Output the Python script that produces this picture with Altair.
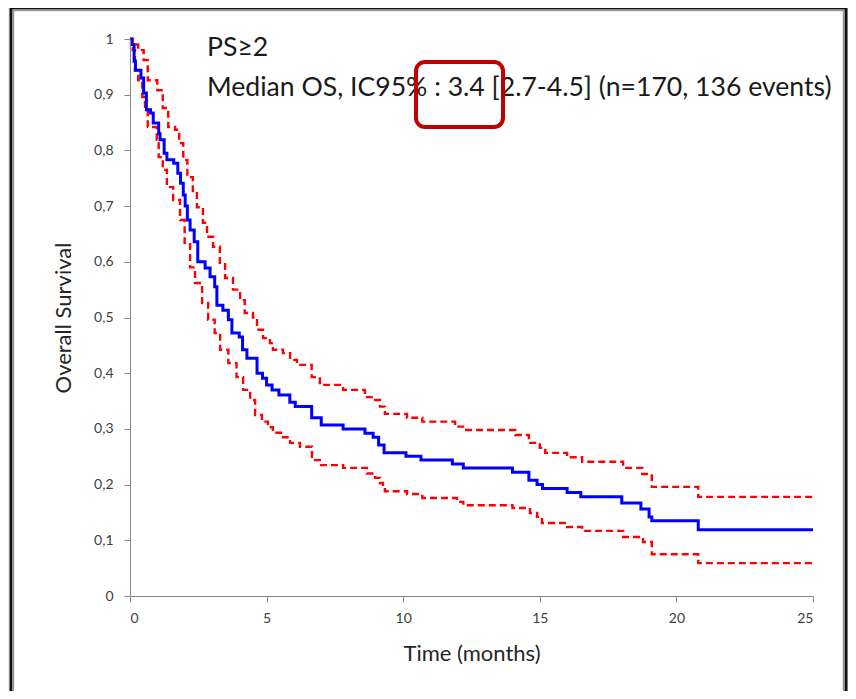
import altair as alt
import pandas as pd

# Kaplan-Meier estimate (step change points: time in months, survival)
km_t = [0, 0.05, 0.15, 0.2, 0.4, 0.5, 0.6, 0.75, 0.85, 1.05, 1.1, 1.25, 1.35, 1.6, 1.75, 1.85,
        1.95, 2.02, 2.1, 2.2, 2.35, 2.48, 2.75, 2.93, 3.1, 3.18, 3.4, 3.6, 3.73, 4.0, 4.12, 4.28,
        4.65, 4.85, 5.0, 5.2, 5.45, 5.85, 6.05, 6.65, 7.0, 7.8, 8.6, 8.9, 9.1, 9.3, 10.1, 10.65,
        11.8, 12.2, 14.0, 14.6, 14.9, 15.1, 16.0, 16.5, 18.0, 18.7, 19.0, 19.1, 20.8, 25.0]
km_s = [1.0, 0.99, 0.96, 0.944, 0.93, 0.903, 0.873, 0.867, 0.849, 0.83, 0.819, 0.795, 0.783,
        0.777, 0.759, 0.741, 0.72, 0.70, 0.675, 0.657, 0.636, 0.60, 0.589, 0.573, 0.555, 0.522,
        0.513, 0.496, 0.472, 0.465, 0.442, 0.427, 0.40, 0.391, 0.379, 0.37, 0.361, 0.348, 0.34,
        0.32, 0.307, 0.30, 0.292, 0.285, 0.271, 0.257, 0.251, 0.244, 0.237, 0.23, 0.222, 0.208,
        0.2, 0.193, 0.186, 0.178, 0.167, 0.156, 0.142, 0.135, 0.119, 0.119]

# Upper 95% confidence bound
up_t = [0, 0.1, 0.3, 0.5, 0.65, 1.0, 1.2, 1.4, 1.65, 1.8, 1.95, 2.1, 2.3, 2.45, 2.67, 2.82,
        3.04, 3.29, 3.48, 3.77, 4.03, 4.2, 4.5, 4.65, 4.87, 5.12, 5.23, 5.6, 5.86, 6.11, 6.65,
        6.95, 7.8, 8.6, 8.9, 9.15, 9.33, 10.14, 10.7, 11.9, 12.26, 14.1, 14.6, 15.0, 15.2, 16.0,
        16.55, 18.05, 18.75, 19.1, 20.8, 25.0]
up_s = [1.0, 0.99, 0.98, 0.962, 0.926, 0.908, 0.876, 0.842, 0.837, 0.813, 0.783, 0.752, 0.723,
        0.698, 0.67, 0.645, 0.627, 0.598, 0.571, 0.55, 0.531, 0.508, 0.5, 0.478, 0.463, 0.454,
        0.442, 0.436, 0.424, 0.415, 0.393, 0.379, 0.37, 0.357, 0.352, 0.34, 0.327, 0.32, 0.313,
        0.304, 0.298, 0.289, 0.275, 0.266, 0.257, 0.249, 0.241, 0.23, 0.219, 0.196, 0.178, 0.178]

# Lower 95% confidence bound
lo_t = [0, 0.1, 0.18, 0.3, 0.45, 0.55, 0.65, 0.98, 1.05, 1.2, 1.35, 1.58, 1.83, 2.0, 2.2, 2.38,
        2.64, 2.86, 3.1, 3.3, 3.6, 3.9, 4.14, 4.4, 4.58, 4.83, 5.05, 5.23, 5.6, 5.86, 6.22, 6.66,
        6.95, 7.8, 8.67, 8.97, 9.15, 9.26, 9.33, 10.14, 10.7, 11.97, 12.2, 14.0, 14.64, 14.9,
        15.08, 16.0, 16.55, 18.05, 18.78, 19.1, 20.8, 25.0]
lo_s = [1.0, 0.98, 0.944, 0.926, 0.896, 0.873, 0.842, 0.819, 0.788, 0.765, 0.734, 0.711, 0.675,
        0.634, 0.59, 0.562, 0.526, 0.496, 0.472, 0.442, 0.418, 0.393, 0.37, 0.352, 0.325, 0.313,
        0.303, 0.293, 0.285, 0.275, 0.268, 0.244, 0.235, 0.23, 0.22, 0.212, 0.203, 0.194, 0.188,
        0.183, 0.176, 0.169, 0.163, 0.158, 0.149, 0.142, 0.131, 0.124, 0.117, 0.106, 0.097,
        0.075, 0.059, 0.059]

x_ticks = [0, 5, 10, 15, 20, 25]
y_ticks = [0, 0.1, 0.2, 0.3, 0.4, 0.5, 0.6, 0.7, 0.8, 0.9, 1.0]
title_line1 = "PS≥2"
title_line2 = "Median OS, IC95% : 3.4 [2.7-4.5] (n=170, 136 events)"

km = pd.DataFrame({"t": km_t, "s": km_s})
ci = pd.concat([
    pd.DataFrame({"t": up_t, "s": up_s, "bound": "upper"}),
    pd.DataFrame({"t": lo_t, "s": lo_s, "bound": "lower"}),
])

FONT = "Lato"
AXIS_GRAY = "#868686"

x_enc = alt.X("t:Q", scale=alt.Scale(domain=[0, 25], nice=False),
              axis=alt.Axis(values=x_ticks, title="Time (months)", grid=False, zindex=2,
                            domainColor=AXIS_GRAY, tickColor=AXIS_GRAY, tickSize=6,
                            labelFont=FONT, labelFontSize=14, labelColor="#404040", labelPadding=9,
                            titleFont=FONT, titleFontSize=22, titleFontWeight="normal",
                            titleColor="#262626", titlePadding=18))
y_enc = alt.Y("s:Q", scale=alt.Scale(domain=[0, 1], nice=False),
              axis=alt.Axis(values=y_ticks, title="Overall Survival", grid=False, zindex=2,
                            labelExpr="datum.value == 0 ? '0' : datum.value == 1 ? '1' : replace(format(datum.value, '.1f'), '.', ',')",
                            domainColor=AXIS_GRAY, tickColor=AXIS_GRAY, tickSize=6,
                            labelFont=FONT, labelFontSize=14, labelColor="#404040", labelPadding=11,
                            titleFont=FONT, titleFontSize=22, titleFontWeight="normal",
                            titleColor="#262626", titlePadding=18))

# frame decoration (outer dark border with light inner edge)
frame_outer = alt.Chart(pd.DataFrame({"a": [0]})).mark_rect(
    fill="white", stroke="#111111", strokeWidth=3, clip=False
).encode(x=alt.value(-119), x2=alt.value(716), y=alt.value(-31), y2=alt.value(680))
frame_inner = alt.Chart(pd.DataFrame({"a": [0]})).mark_rect(
    fill="white", stroke="#9a9a9a", strokeWidth=1.5, clip=False
).encode(x=alt.value(-116.5), x2=alt.value(713.5), y=alt.value(-28.5), y2=alt.value(680))

ci_lines = alt.Chart(ci).mark_line(
    interpolate="step-after", color="#ff0000", strokeWidth=2.4, strokeDash=[7, 4]
).encode(x=x_enc, y=y_enc, detail="bound:N", order="t:Q")

km_line = alt.Chart(km).mark_line(
    interpolate="step-after", color="#0000ff", strokeWidth=3
).encode(x="t:Q", y="s:Q", order="t:Q")

txt1 = alt.Chart(pd.DataFrame({"label": [title_line1]})).mark_text(
    align="left", baseline="middle", font=FONT, fontSize=26.6, color="#1a1a1a"
).encode(x=alt.value(77), y=alt.value(9), text="label:N")
txt2 = alt.Chart(pd.DataFrame({"label": [title_line2]})).mark_text(
    align="left", baseline="middle", font=FONT, fontSize=26.6, color="#1a1a1a"
).encode(x=alt.value(77), y=alt.value(49), text="label:N")

box = alt.Chart(pd.DataFrame({"a": [0]})).mark_rect(
    fill=None, filled=False, stroke="#c00000", strokeWidth=4, cornerRadius=9, clip=False
).encode(x=alt.value(286), x2=alt.value(373), y=alt.value(23), y2=alt.value(88))

chart = alt.layer(frame_outer, frame_inner, ci_lines, km_line, txt1, txt2, box).properties(
    width=683, height=557,
    padding={"left": 122, "top": 31, "right": 35, "bottom": 95},
    autosize=alt.AutoSizeParams(type="none"),
    background="#ececec",
).configure_view(stroke=None)

chart.save("out.html", embed_options={"renderer": "svg", "actions": False})
